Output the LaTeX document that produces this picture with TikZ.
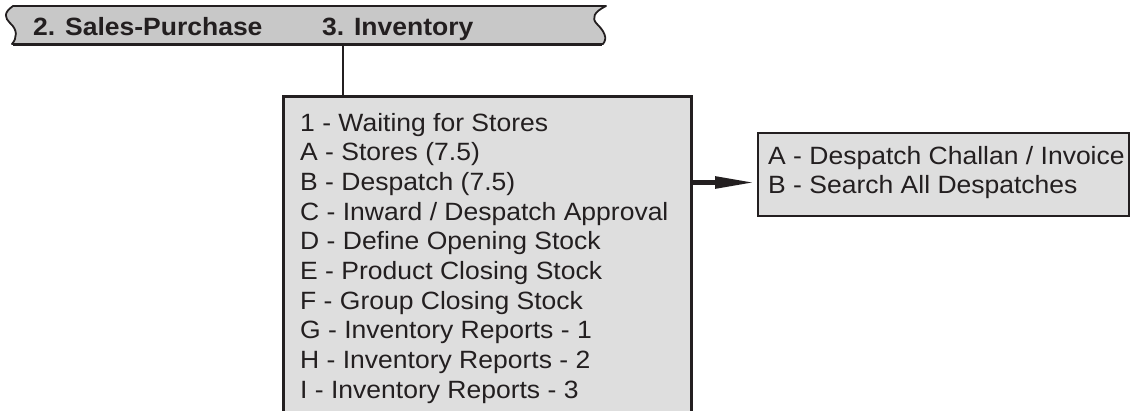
\documentclass[tikz,border=0pt]{standalone}
\usepackage{fontspec}
\setmainfont{Liberation Sans}
\newfontfamily\listfont[FakeStretch=1.06]{Liberation Sans}
\usetikzlibrary{arrows.meta}

\definecolor{ink}{RGB}{35,31,32}
\definecolor{tabgray}{RGB}{200,200,200}
\definecolor{boxgray}{RGB}{222,222,222}

\tikzset{
  tablabel/.style={anchor=base west, inner sep=0pt, text=ink,
    font=\listfont\bfseries\fontsize{25}{30}\selectfont},
  menubox/.style={draw=ink, fill=boxgray, anchor=north west, inner sep=0pt},
  menutext/.style={anchor=base west, inner sep=0pt, text=ink,
    font=\listfont\fontsize{25}{29.7}\selectfont},
  link/.style={draw=ink, line width=1.5pt},
  bigarrow/.style={draw=ink, fill=ink, line width=5.5pt,
    -{Triangle[length=42pt,width=11pt]}}
}

\begin{document}
\begin{tikzpicture}[x=1pt,y=-1pt]
\useasboundingbox (0,0) rectangle (1130,410);
\clip (0,0) rectangle (1130,410);

% ribbon-shaped tab strip
\path[fill=tabgray, draw=ink, line width=1.8pt, line join=round]
  (13,6) -- (606,6)
  .. controls (594,12) and (591,18) .. (597,24)
  .. controls (604,31) and (608,38) .. (603,44)
  -- (12,44)
  .. controls (17,38) and (18,30) .. (10,23)
  .. controls (5,18) and (3,13) .. (13,6) -- cycle;
% heavier lower edge of the strip
\draw[draw=ink, line width=2.6pt] (13,44.4) -- (602,44.4);

\node[tablabel] (salestab) at (33,35) {2. Sales-Purchase};
\node[tablabel] (invtab) at (322,35) {3. Inventory};
\coordinate (tabfoot) at (343,44);

% inventory menu
\node[menubox, line width=3pt, minimum width=408pt, minimum height=340pt]
  (invbox) at (282,95) {};
\node[menutext] (invlist) at (300,131) {\begin{tabular}[t]{@{}l@{}}
1 - Waiting for Stores\\
A - Stores (7.5)\\
B - Despatch (7.5)\\
C - Inward / Despatch Approval\\
D - Define Opening Stock\\
E - Product Closing Stock\\
F - Group Closing Stock\\
G - Inventory Reports - 1\\
H - Inventory Reports - 2\\
I - Inventory Reports - 3
\end{tabular}};

% despatch submenu
\node[menubox, line width=2pt, minimum width=371pt, minimum height=83pt]
  (despbox) at (757,132) {};
\node[menutext] (desplist) at (768,164) {\begin{tabular}[t]{@{}l@{}}
A - Despatch Challan / Invoice\\
B - Search All Despatches
\end{tabular}};

% connectors
\draw[link] (tabfoot) -- (tabfoot |- invbox.north);
\coordinate (arrowrow) at (0,182.5);
\draw[bigarrow] (invbox.east |- arrowrow) -- (despbox.west |- arrowrow);
\end{tikzpicture}
\end{document}
